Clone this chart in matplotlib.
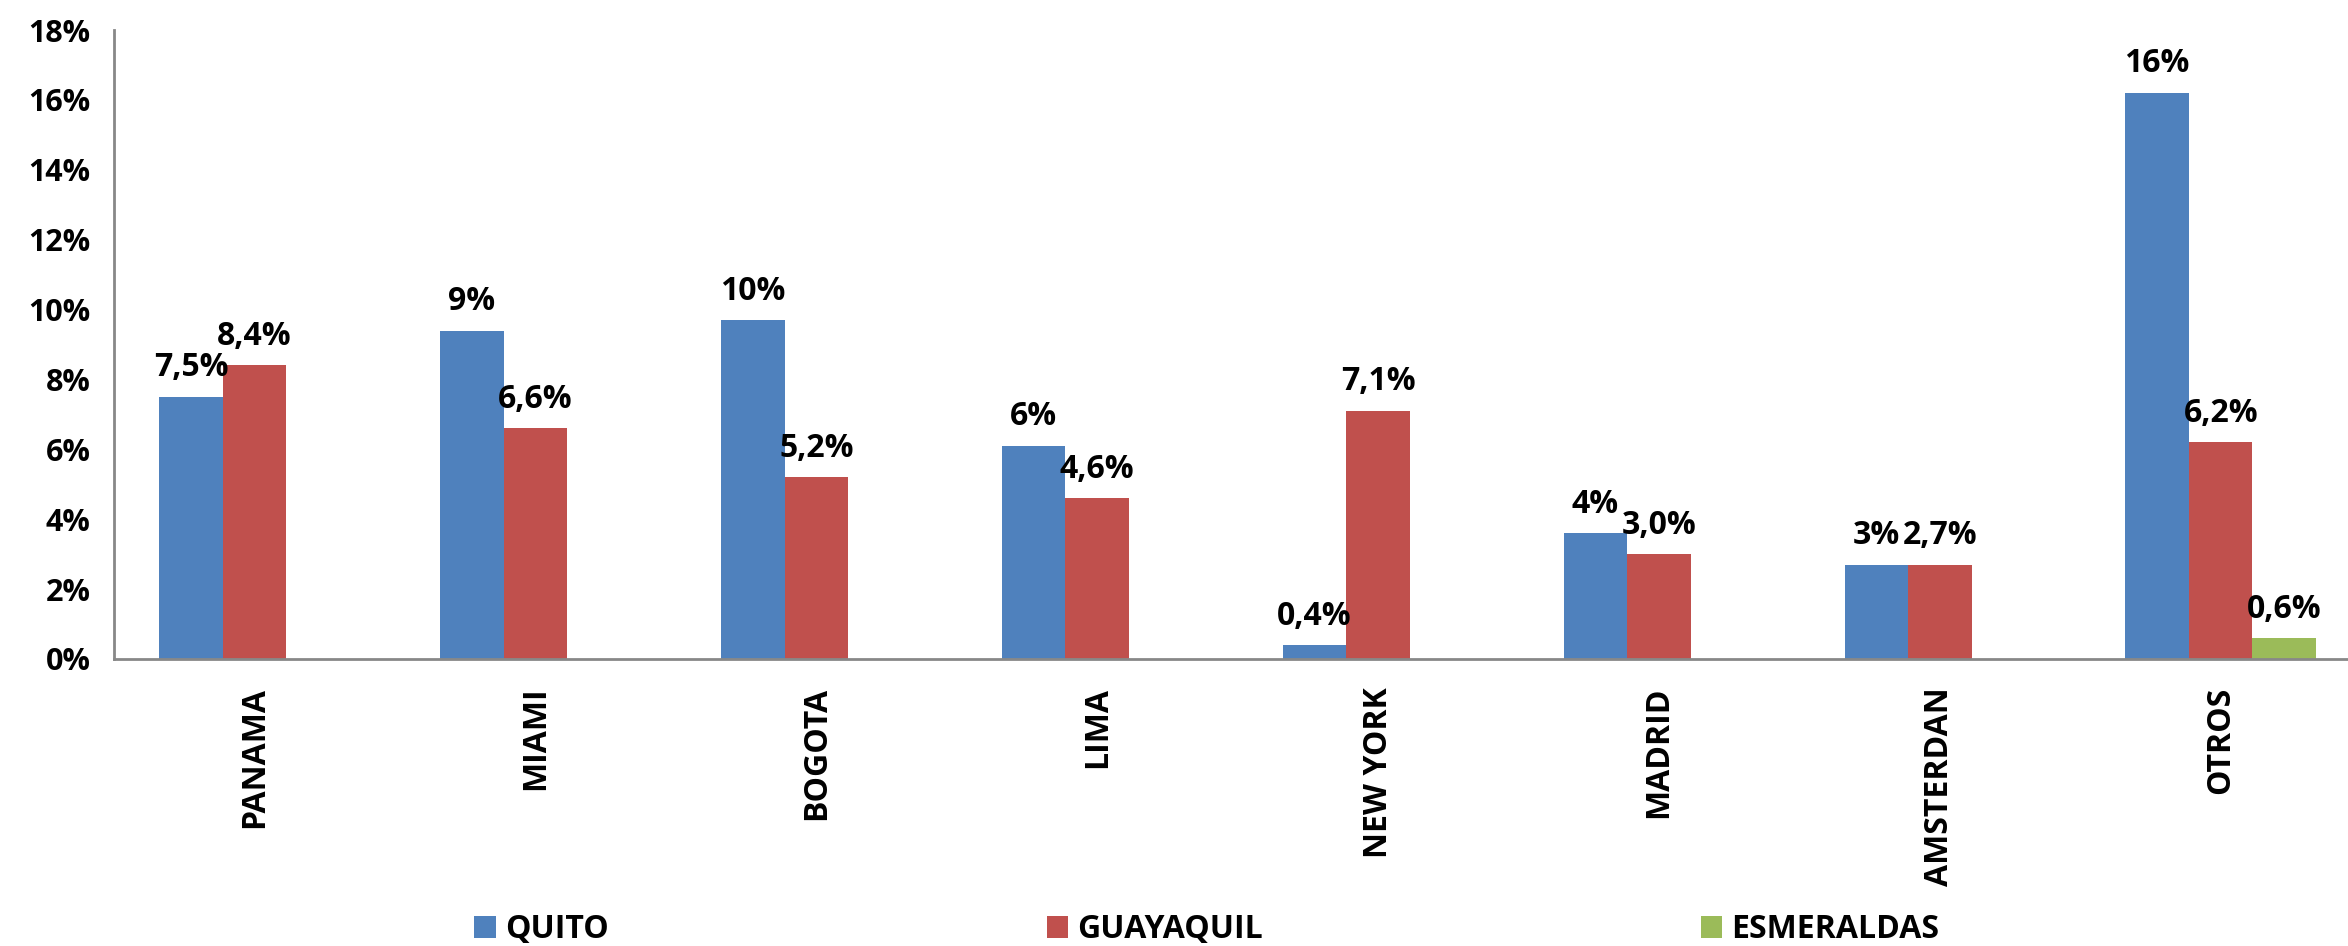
import numpy as np
import matplotlib.pyplot as plt
from matplotlib.ticker import FuncFormatter

# destinos y participacion (%) por aeropuerto de origen
destinos = ['PANAMA', 'MIAMI', 'BOGOTA', 'LIMA', 'NEW YORK', 'MADRID', 'AMSTERDAN', 'OTROS']
quito = [7.5, 9.4, 9.7, 6.1, 0.4, 3.6, 2.7, 16.2]
guayaquil = [8.4, 6.6, 5.2, 4.6, 7.1, 3.0, 2.7, 6.2]
esmeraldas = [0, 0, 0, 0, 0, 0, 0, 0.6]

# decimales mostrados en cada etiqueta
dec_quito = [1, 0, 0, 0, 1, 0, 0, 0]
dec_guayaquil = [1, 1, 1, 1, 1, 1, 1, 1]
dec_esmeraldas = [1, 1, 1, 1, 1, 1, 1, 1]

series = [('QUITO', quito, dec_quito, '#4F81BD'),
          ('GUAYAQUIL', guayaquil, dec_guayaquil, '#C0504D'),
          ('ESMERALDAS', esmeraldas, dec_esmeraldas, '#9BBB59')]

plt.rcParams['font.family'] = ['Open Sans', 'DejaVu Sans']

fig = plt.figure(figsize=(23.48, 9.46), dpi=100)
# el area del grafico sigue un poco mas alla del borde derecho
ax = fig.add_axes([0.0486, 0.3034, 0.957, 0.6648])

x = np.arange(len(destinos))
w = 0.226
for i, (nombre, vals, decs, color) in enumerate(series):
    pos = x + (i - 1) * w
    bars = ax.bar(pos, vals, w, color=color, label=nombre)
    for b, v, d in zip(bars, vals, decs):
        if v == 0:
            continue
        txt = f'{v:.{d}f}%'.replace('.', ',')
        ax.annotate(txt, (b.get_x() + b.get_width() / 2, v),
                    xytext=(0, 9), textcoords='offset points',
                    ha='center', va='bottom', fontsize=23, fontweight='bold')

ax.set_xlim(-0.5, len(destinos) - 0.5)
ax.set_ylim(0, 18)
ax.set_yticks(np.arange(0, 19, 2))
ax.yaxis.set_major_formatter(FuncFormatter(lambda v, p: f'{v:.0f}%'))
ax.set_xticks(x)
ax.set_xticklabels(destinos, rotation=90, fontsize=23, fontweight='bold')
for lbl in ax.get_yticklabels():
    lbl.set_fontsize(22)
    lbl.set_fontweight('bold')
ax.tick_params(axis='both', length=0)
ax.tick_params(axis='y', pad=17)
ax.tick_params(axis='x', pad=20)

for s in ['top', 'right']:
    ax.spines[s].set_visible(False)
for s in ['left', 'bottom']:
    ax.spines[s].set_color('#888888')
    ax.spines[s].set_linewidth(2)

fig.legend(loc='center', bbox_to_anchor=(0.514, 0.017), ncol=3, frameon=False,
           handlelength=0.66, handleheight=0.66, handletextpad=0.3,
           columnspacing=13.7, prop={'size': 23, 'weight': 'bold'})

fig.savefig('out.png', dpi=100)
